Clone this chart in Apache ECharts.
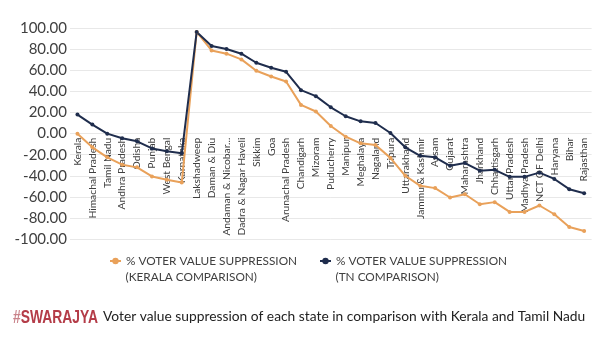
<!DOCTYPE html>
<html>
<head>
<meta charset="utf-8">
<script src="https://cdn.jsdelivr.net/npm/echarts@6/dist/echarts.min.js"></script>
<style>
html,body{margin:0;padding:0;background:#ffffff;}
#c{width:610px;height:345px;}
</style>
</head>
<body>
<div id="c"></div>
<script>
const categories = ["Kerala","Himachal Pradesh","Tamil Nadu","Andhra Pradesh","Odisha","Punjab","West Bengal","Karnataka","Lakshadweep","Daman & Diu","Andaman & Nicobar...","Dadra & Nagar Haveli","Sikkim","Goa","Arunachal Pradesh","Chandigarh","Mizoram","Puducherry","Manipur","Meghalaya","Nagaland","Tripura","Uttarakhand","Jammu & Kashmir","Assam","Gujarat","Maharashtra","Jharkhand","Chhattisgarh","Uttar Pradesh","Madhya Pradesh","NCT OF Delhi","Haryana","Bihar","Rajasthan"];
const keralaComparison = [0,-13,-22.5,-29.5,-32,-40.6,-43.8,-46.4,96.5,79,75.9,70.5,59.7,54.3,49.5,27.3,21,7.3,-2.9,-9.2,-10.8,-23,-40,-49.5,-51.7,-60.6,-57.5,-67,-65,-74.3,-74.3,-68.2,-76.5,-88.6,-92.4];
const tnComparison = [18.1,8.6,0,-4.4,-7.3,-14,-16.8,-18.7,96.5,83.2,80.3,75.9,67.3,62.5,58.7,41.3,35.6,25,16.5,11.7,10.1,0.6,-13,-21,-22.5,-30.5,-27.9,-35.2,-34.3,-41,-41,-37,-43,-52.7,-56.5];
const yTicks = {min:-100, max:100, interval:20};
const seriesNames = ["% VOTER VALUE SUPPRESSION\n(KERALA COMPARISON)", "% VOTER VALUE SUPPRESSION\n(TN COMPARISON)"];
const footerBrand = ["#", "SWARAJYA"];
const footerText = "Voter value suppression of each state in comparison with Kerala and Tamil Nadu";

const W = 610, H = 345;
const grid = {left:70, right:18.4, top:28.3, bottom:106};
const gridH = H - grid.top - grid.bottom;
// move the category axis up to the zero line of the value axis
const zeroOffset = -gridH * (0 - yTicks.min) / (yTicks.max - yTicks.min);

const cal = "Lato, 'Liberation Sans', sans-serif";
const chart = echarts.init(document.getElementById('c'), null, {renderer:'canvas'});
const legendText = {color:'#404040', fontSize:11.8, fontFamily:cal, lineHeight:15};
const firstLine = n => n.split('\n')[0];
const secondLine = n => n.split('\n')[1];
chart.setOption({
  backgroundColor:'#ffffff',
  animation:false,
  grid:Object.assign({outerBoundsMode:'none'}, grid),
  legend:[
    {data:[seriesNames[0]], left:109, top:253.5, itemWidth:11, itemHeight:8, textStyle:legendText, padding:0, formatter:firstLine},
    {data:[seriesNames[1]], left:319, top:253.5, itemWidth:11, itemHeight:8, textStyle:legendText, padding:0, formatter:firstLine}
  ],
  xAxis:{
    type:'category', data:categories, boundaryGap:true, offset:zeroOffset,
    axisLine:{show:false, onZero:false}, axisTick:{show:false},
    axisLabel:{rotate:90, interval:0, margin:4, color:'#404040', fontSize:10.3, fontFamily:cal}
  },
  yAxis:{
    type:'value', min:yTicks.min, max:yTicks.max, interval:yTicks.interval,
    axisLine:{show:false}, axisTick:{show:false},
    splitLine:{lineStyle:{color:'#e8e8e8', width:1}},
    axisLabel:{margin:3, color:'#404040', fontSize:15, fontFamily:cal, formatter:v=>v.toFixed(2)}
  },
  series:[
    {name:seriesNames[0], type:'line', data:keralaComparison, symbol:'circle', symbolSize:4,
     lineStyle:{color:'#e9a15a', width:2}, itemStyle:{color:'#e9a15a'}},
    {name:seriesNames[1], type:'line', data:tnComparison, symbol:'circle', symbolSize:4,
     lineStyle:{color:'#1f2d4d', width:2}, itemStyle:{color:'#1f2d4d'}}
  ],
  graphic:[
    {type:'text', x:125.5, y:276.7, style:{text:secondLine(seriesNames[0]), fill:'#404040', fontSize:11.8, fontFamily:cal, verticalAlign:'middle'}},
    {type:'text', x:335.5, y:276.7, style:{text:secondLine(seriesNames[1]), fill:'#404040', fontSize:11.8, fontFamily:cal, verticalAlign:'middle'}},
    {type:'text', x:13, y:317.5, scaleX:0.73, style:{
      text:'{h|'+footerBrand[0]+'}{s|'+footerBrand[1]+'}', verticalAlign:'middle',
      rich:{h:{fill:'#c9838a', fontSize:19, fontWeight:'bold', fontFamily:"'Liberation Sans', sans-serif"},
            s:{fill:'#b43c48', fontSize:19, fontWeight:'bold', fontFamily:"'Liberation Sans', sans-serif"}}
    }},
    {type:'text', x:103, y:317, style:{text:footerText, fill:'#222222', fontSize:13.8, fontFamily:"Lato, 'Open Sans', sans-serif", verticalAlign:'middle'}}
  ]
});
</script>
</body>
</html>
